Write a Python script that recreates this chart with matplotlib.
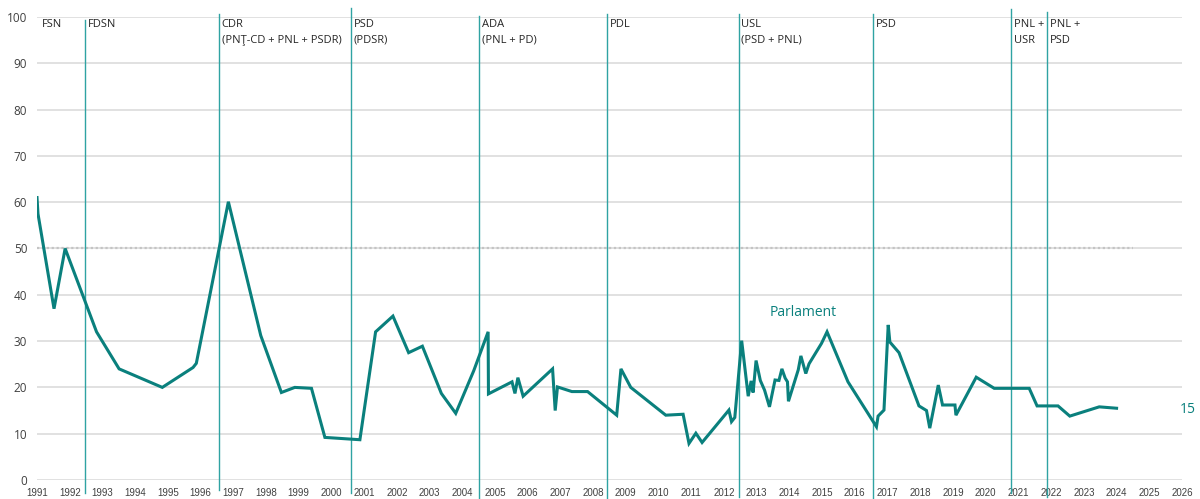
import matplotlib
matplotlib.use("Agg")
import matplotlib.pyplot as plt

# ---- data (decimal years, percent) ----
years = [1991.00, 1991.03, 1991.52, 1991.86, 1992.82, 1993.51, 1994.83, 1995.77, 1995.87,
         1996.85, 1997.84, 1998.47, 1998.88, 1999.39, 1999.80, 2000.87, 2001.35, 2001.88,
         2002.36, 2002.78, 2003.36, 2003.80, 2004.35, 2004.79, 2004.80, 2005.52, 2005.61,
         2005.70, 2005.86, 2006.76, 2006.84, 2006.91, 2007.35, 2007.83, 2008.72, 2008.85,
         2009.15, 2010.22, 2010.75, 2010.93, 2011.14, 2011.33, 2012.15, 2012.23, 2012.33,
         2012.54, 2012.74, 2012.83, 2012.89, 2012.98, 2013.11, 2013.24, 2013.39, 2013.56,
         2013.68, 2013.77, 2013.87, 2013.94, 2013.97, 2014.27, 2014.35, 2014.50, 2014.60,
         2014.98, 2015.15, 2015.79, 2016.66, 2016.71, 2016.89, 2017.02, 2017.07, 2017.35,
         2017.96, 2018.19, 2018.29, 2018.55, 2018.68, 2019.06, 2019.09, 2019.71, 2020.26,
         2021.33, 2021.57, 2022.21, 2022.57, 2023.47, 2024.00]
trust = [61.0, 57.5, 37.0, 50.0, 32.0, 24.0, 20.0, 24.3, 25.2,
         60.1, 31.2, 18.9, 20.0, 19.8, 9.2, 8.7, 32.0, 35.4,
         27.5, 28.9, 18.7, 14.4, 23.6, 32.0, 18.6, 21.2, 18.7,
         22.1, 18.1, 24.0, 15.0, 20.1, 19.1, 19.1, 14.0, 24.0,
         20.0, 14.0, 14.2, 7.9, 10.1, 8.1, 15.1, 12.6, 13.5,
         30.1, 18.1, 21.4, 18.9, 25.8, 21.5, 19.4, 15.8, 21.6,
         21.5, 24.0, 22.0, 21.2, 17.0, 23.8, 26.8, 23.0, 25.1,
         29.5, 32.0, 21.2, 11.5, 13.8, 15.1, 33.5, 29.8, 27.5,
         16.0, 15.0, 11.2, 20.5, 16.2, 16.2, 14.0, 22.2, 19.8,
         19.8, 16.0, 16.0, 13.8, 15.8, 15.5]

gov_starts = [1992.48, 1996.56, 2000.60, 2004.51, 2008.43, 2012.45, 2016.56, 2020.78, 2021.88]
gov_labels = ["FDSN", "CDR\n(PNŢ-CD + PNL + PSDR)", "PSD\n(PDSR)", "ADA\n(PNL + PD)", "PDL",
              "USL\n(PSD + PNL)", "PSD", "PNL +\nUSR", "PNL +\nPSD"]
first_label = "FSN"
majority_level = 50
majority_end = 2024.50
series_name = "Parlament"
last_value_label = "15"
year_ticks = list(range(1991, 2027))

# ---- styling ----
TEAL = "#0a807d"
VLINE = "#2fa3a3"
GRID = "#d9d9d9"
plt.rcParams['font.family'] = ['Open Sans', 'DejaVu Sans']

fig = plt.figure(figsize=(12, 4.99), dpi=100)
ax = fig.add_axes([37 / 1200, 1 - 480 / 499, (1182 - 37) / 1200, (480 - 17) / 499])

ax.set_xlim(1991, 2026)
ax.set_ylim(0, 100)
ax.set_yticks(range(0, 101, 10))
ax.set_xticks(year_ticks)
ax.set_xticklabels([str(y) for y in year_ticks], fontsize=7, family='Liberation Sans', color='#404040')
ax.tick_params(axis='x', length=0, pad=6)
ax.tick_params(axis='y', length=0, pad=7, labelsize=8.5, labelcolor='#404040')
for s in ax.spines.values():
    s.set_visible(False)
ax.grid(axis='y', color=GRID, lw=1.1, zorder=0)
ax.set_axisbelow(True)

# majority line
ax.plot([1991, majority_end], [majority_level, majority_level], color='#c4c4c4', lw=1.6,
        ls=(0, (1, 1.2)), zorder=1)

# government change lines
tops = [99.4, 100.6, 101.9, 100.2, 100.6, 100.6, 100.6, 101.7, 101.1]
bots = [-2.8, -2.2, -2.8, -4.1, -4.1, -3.7, -4.1, -2.8, -3.7]
for x, t, b in zip(gov_starts, tops, bots):
    ax.plot([x, x], [b, t], color=VLINE, lw=1.0, clip_on=False, zorder=2)

ax.text(1991 + 0.14, 99.6, first_label, fontsize=8, va='top', ha='left', color='#262626',
        linespacing=1.6)
for x, lab in zip(gov_starts, gov_labels):
    ax.text(x + 0.08, 99.6, lab, fontsize=8, va='top', ha='left', color='#262626',
            linespacing=1.6)

# main series
ax.plot(years, trust, color=TEAL, lw=2.2, solid_joinstyle='miter', zorder=3)

ax.text(2014.41, 36.1, series_name, fontsize=10, color=TEAL, ha='center', va='center')
ax.text(2026.19, 15.3, last_value_label, fontsize=10, color=TEAL, ha='center', va='center',
        clip_on=False)

fig.savefig("out.png", dpi=100)
